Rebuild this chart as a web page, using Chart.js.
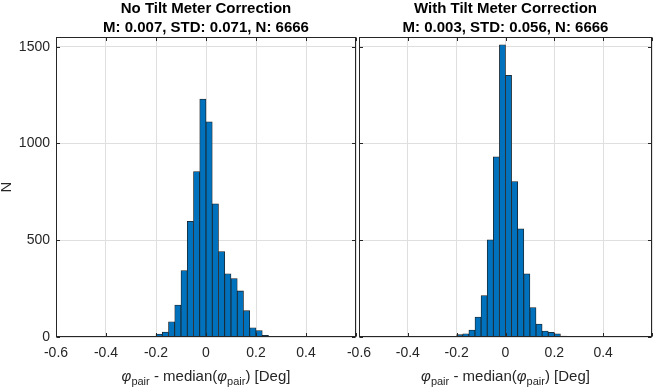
<!DOCTYPE html>
<html><head><meta charset="utf-8">
<script src="https://cdn.jsdelivr.net/npm/chart.js@4.4.1/dist/chart.umd.min.js"></script>
<style>
html,body{margin:0;padding:0;background:#fff;}
#wrap{position:relative;width:660px;height:388px;background:#fff;}
canvas{position:absolute;left:0;top:0;}
</style></head><body>
<div id="wrap">
<canvas id="c1" width="660" height="388" style="width:660px;height:388px"></canvas>
<canvas id="c2" width="660" height="388" style="width:660px;height:388px"></canvas>
</div>
<script>
// Histogram bin centres (bin width 0.025 deg)
const binCenters = [-0.2625,-0.2375,-0.2125,-0.1875,-0.1625,-0.1375,-0.1125,-0.0875,-0.0625,-0.0375,-0.0125,
  0.0125,0.0375,0.0625,0.0875,0.1125,0.1375,0.1625,0.1875,0.2125,0.2375,0.2625,0.2875,0.3125];
const countsNoTilt   = [1,1,2,15,26,79,165,343,598,855,1229,1112,688,441,327,302,238,136,48,33,8,3,1,1];
const countsWithTilt = [0,1,2,12,17,36,103,214,502,931,1510,1352,803,559,326,152,67,31,24,16,5,2,1,0];
const xTicks = [-0.6,-0.4,-0.2,0,0.2,0.4,0.6];
const yTicks = [0,500,1000,1500];
const titleNoTilt   = ["No Tilt Meter Correction","M: 0.007, STD: 0.071, N: 6666"];
const titleWithTilt = ["With Tilt Meter Correction","M: 0.003, STD: 0.056, N: 6666"];
const yLabel = "N";

const FONT = "'Liberation Sans', Arial, Helvetica, sans-serif";
const AX = '#262626';

function drawXLabel(ctx, cx, y) {
  const big = "15px " + FONT, bigIt = "italic 15px " + FONT, small = "11px " + FONT;
  const segs = [
    {t:"φ", f:bigIt, dy:0},
    {t:"pair", f:small, dy:4},
    {t:" - median(", f:big, dy:0},
    {t:"φ", f:bigIt, dy:0},
    {t:"pair", f:small, dy:4},
    {t:") [Deg]", f:big, dy:0}
  ];
  let w = 0;
  segs.forEach(s => { ctx.font = s.f; s.w = ctx.measureText(s.t).width; w += s.w; });
  let x = cx - w / 2;
  ctx.textAlign = 'left'; ctx.textBaseline = 'alphabetic'; ctx.fillStyle = AX;
  segs.forEach(s => { ctx.font = s.f; ctx.fillText(s.t, x, y + s.dy); x += s.w; });
}

function framePlugin(titleLines, showYLabel) {
  return {
    id: 'frame',
    afterDraw(chart) {
      const {ctx, chartArea: a, scales} = chart;
      ctx.save();
      ctx.strokeStyle = AX; ctx.lineWidth = 1;
      ctx.beginPath();
      const L = Math.round(a.left) + 0.5, R = Math.round(a.right) - 0.5;
      const T = Math.round(a.top) + 0.5, B = Math.round(a.bottom) - 0.5;
      xTicks.forEach(v => {
        const px = Math.round(scales.x.getPixelForValue(v)) + 0.5;
        ctx.moveTo(px, B); ctx.lineTo(px, B - 3.5);
        ctx.moveTo(px, T); ctx.lineTo(px, T + 3.5);
      });
      yTicks.forEach(v => {
        const py = Math.round(scales.y.getPixelForValue(v)) + 0.5;
        ctx.moveTo(L, py); ctx.lineTo(L + 3.5, py);
        ctx.moveTo(R, py); ctx.lineTo(R - 3.5, py);
      });
      ctx.stroke();
      ctx.strokeRect(L, T, R - L, B - T);
      // titles
      const cx = (a.left + a.right) / 2;
      ctx.fillStyle = '#000';
      ctx.font = "bold 15px " + FONT;
      ctx.textAlign = 'center'; ctx.textBaseline = 'alphabetic';
      ctx.fillText(titleLines[0], cx, 12.5);
      ctx.fillText(titleLines[1], cx, 31.5);
      // x label
      drawXLabel(ctx, cx, 381);
      if (showYLabel) {
        ctx.save();
        ctx.translate(11, (a.top + a.bottom) / 2);
        ctx.rotate(-Math.PI / 2);
        ctx.font = "15px " + FONT; ctx.fillStyle = AX;
        ctx.textAlign = 'center'; ctx.textBaseline = 'alphabetic';
        ctx.fillText(yLabel, 0, 0);
        ctx.restore();
      }
      ctx.restore();
    }
  };
}

function makeChart(id, counts, titleLines, cfg) {
  return new Chart(document.getElementById(id), {
    type: 'bar',
    data: {
      datasets: [{
        data: binCenters.map((x, i) => ({x: x, y: counts[i]})),
        backgroundColor: '#0072BD',
        borderColor: '#1e1e1e',
        borderWidth: 0.8,
        barPercentage: 1,
        categoryPercentage: 1,
        grouped: false
      }]
    },
    options: {
      responsive: false, animation: false, devicePixelRatio: 1,
      layout: {padding: {top: 37, left: cfg.padLeft, right: cfg.padRight, bottom: 0}},
      plugins: {legend: {display: false}, tooltip: {enabled: false}, title: {display: false}},
      scales: {
        x: {
          type: 'linear', min: -0.6, max: 0.6, offset: false,
          afterBuildTicks: s => { s.ticks = xTicks.map(v => ({value: v})); },
          afterFit: s => { s.height = 51; },
          grid: {color: '#dfdfdf', drawTicks: false, lineWidth: 1, offset: false},
          border: {display: false},
          ticks: {
            font: {family: FONT, size: 14}, color: AX, padding: 8,
            maxRotation: 0, autoSkip: false,
            callback: v => Math.abs(v - 0.6) < 1e-9 ? '' : (v === 0 ? '0' : String(Math.round(v * 10) / 10))
          }
        },
        y: {
          type: 'linear', min: 0, max: 1550,
          afterBuildTicks: s => { s.ticks = yTicks.map(v => ({value: v})); },
          afterFit: s => { s.width = cfg.yWidth; },
          grid: {color: '#dfdfdf', drawTicks: false, lineWidth: 1},
          border: {display: false},
          ticks: {display: cfg.showY, font: {family: FONT, size: 14}, color: AX, padding: 6,
            callback: v => String(v)}
        }
      }
    },
    plugins: [framePlugin(titleLines, cfg.showY)]
  });
}

makeChart('c1', countsNoTilt, titleNoTilt, {padLeft: 0, padRight: 304, yWidth: 56, showY: true});
makeChart('c2', countsWithTilt, titleWithTilt, {padLeft: 357, padRight: 2, yWidth: 2, showY: false});
</script>
</body></html>
